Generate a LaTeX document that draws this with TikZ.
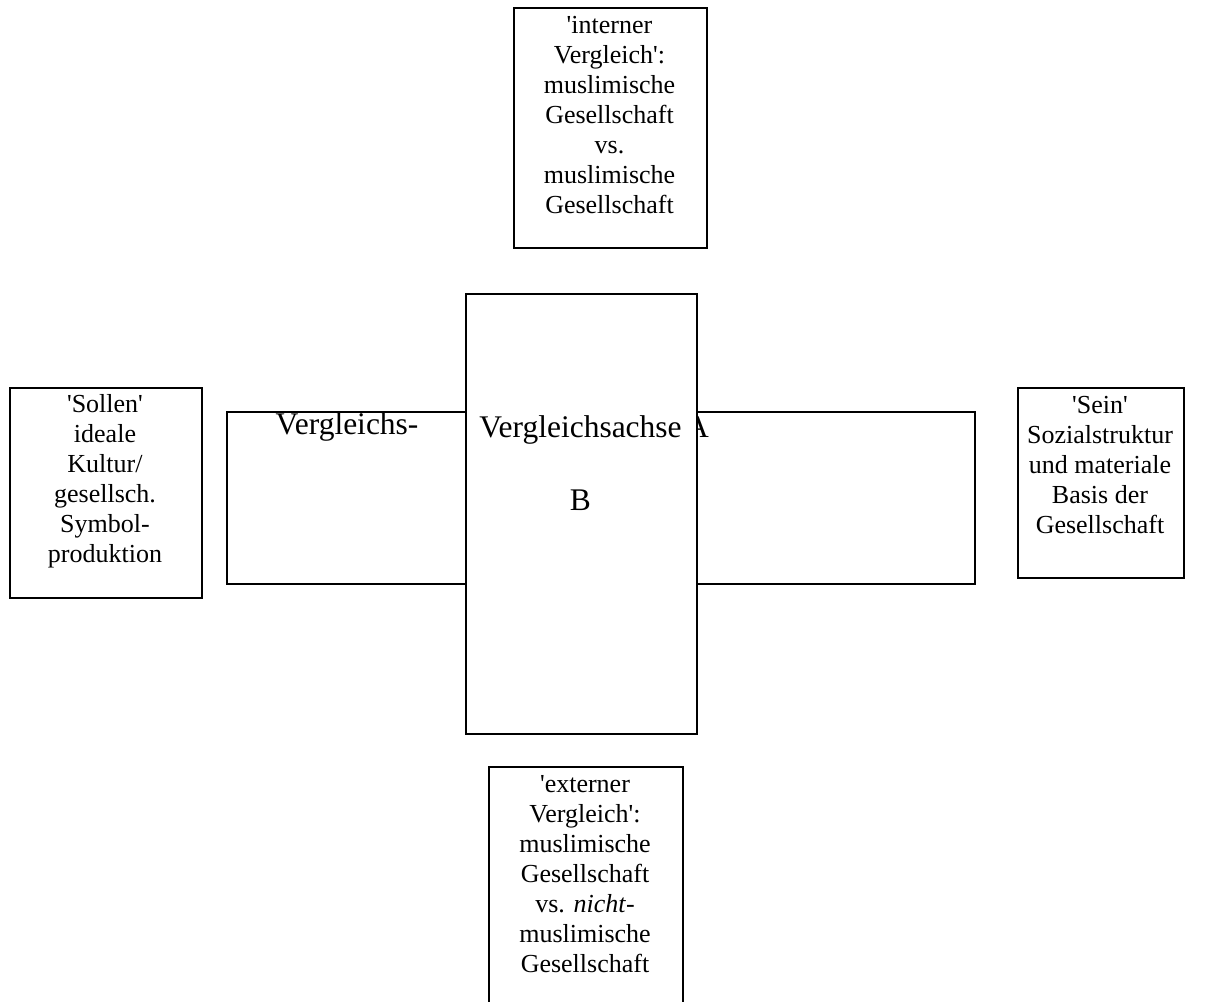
\documentclass[tikz,border=0pt]{standalone}
\usepackage{fontspec}
\setmainfont{Liberation Serif}[Ligatures=TeXOff]
\begin{document}
\begin{tikzpicture}[x=1pt,y=-1pt,
  box/.style={draw, line width=1.5pt, fill=white, rectangle, inner sep=0pt, anchor=north west},
  smalltxt/.style={align=center, font=\fontsize{26}{30}\selectfont, inner sep=0pt, anchor=base},
  bigtxt/.style={align=center, font=\fontsize{31.5}{36.5}\selectfont, inner sep=0pt, anchor=base}]
\useasboundingbox (0,0) rectangle (1211,1002);
\clip (0,0) rectangle (1211,1002);
% side boxes (text anchored at the baseline of its last line)
\node[box, minimum width=193pt, minimum height=240pt] (intern) at (513,7) {};
\node[smalltxt] (interntxt) at (609.5,213) {'interner\\Vergleich':\\muslimische\\Gesellschaft\\vs.\\muslimische\\Gesellschaft};
\node[box, minimum width=192pt, minimum height=210pt] (sollen) at (9,387) {};
\node[smalltxt] (sollentxt) at (105,562) {'Sollen'\\ideale\\Kultur/\\gesellsch.\\Symbol-\\produktion};
\node[box, minimum width=166pt, minimum height=190pt] (sein) at (1017,387) {};
\node[smalltxt] (seintxt) at (1100,533) {'Sein'\\Sozialstruktur\\und materiale\\Basis der\\Gesellschaft};
\node[box, minimum width=194pt, minimum height=300pt] (extern) at (488,766) {};
\node[smalltxt] (externtxt) at (585,972) {'externer\\Vergleich':\\muslimische\\Gesellschaft\\vs. \textit{nicht}-\\muslimische\\Gesellschaft};
% horizontal axis A
\node[box, minimum width=748pt, minimum height=172pt] (achseA) at (226,411) {};
\node[bigtxt] (achseAtxt) at (347,434) {Vergleichs-};
\node[bigtxt, anchor=base west] (achseAend) at (686,437) {A};
% vertical axis B
\node[box, minimum width=231pt, minimum height=440pt] (achseB) at (465,293) {};
\node[bigtxt] (achseBtxt) at (580.5,510) {Vergleichsachse\\[36.5pt]B};
\end{tikzpicture}
\end{document}
